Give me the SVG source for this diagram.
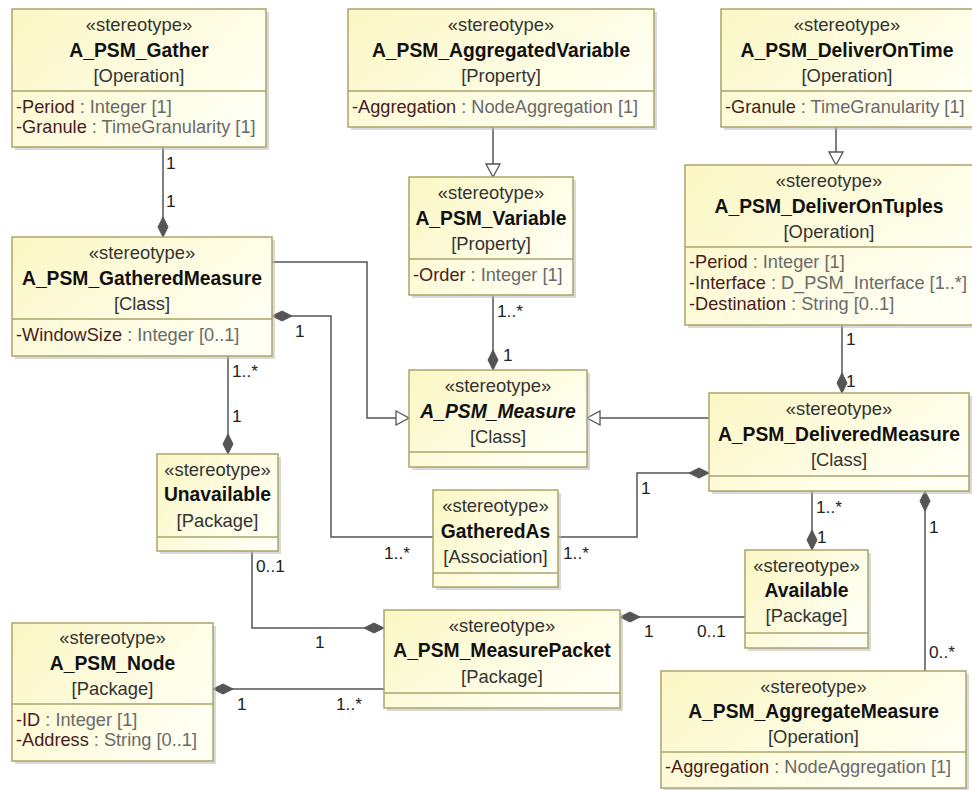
<svg xmlns="http://www.w3.org/2000/svg" width="972" height="790" viewBox="0 0 972 790">
<style>
.bg{fill:#ffffff}
.sh{fill:#b9b9b9;opacity:0.55}
.box{fill:url(#g);stroke:#aaa56a;stroke-width:1.5}
.sep{stroke:#aaa56a;stroke-width:1.5}
text{font-family:"Liberation Sans",Arial,sans-serif}
.st{font-size:18.4px;fill:#333;text-anchor:middle}
.nm{font-size:19.3px;font-weight:bold;fill:#111;text-anchor:middle}
.it{font-style:italic}
.ty{font-size:18.4px;fill:#333;text-anchor:middle}
.at{font-size:18.2px;fill:#6a6a6a}
.an{fill:#4a1c1c}
.c{fill:none;stroke:#555;stroke-width:1.5}
.lb{font-size:17.3px;fill:#222}
</style>
<defs>
<linearGradient id="g" x1="0" y1="0" x2="1" y2="0.6">
<stop offset="0" stop-color="#fbf7c4"/>
<stop offset="1" stop-color="#fffff3"/>
</linearGradient>
<marker id="dia" viewBox="0 0 22 12" refX="21" refY="6" markerWidth="22" markerHeight="12" markerUnits="userSpaceOnUse" orient="auto-start-reverse">
<path d="M1,6 L11,1 L21,6 L11,11 Z" fill="#555" stroke="#555" stroke-width="1"/>
</marker>
<marker id="tri" viewBox="0 0 15 16" refX="14" refY="8" markerWidth="15" markerHeight="16" markerUnits="userSpaceOnUse" orient="auto">
<path d="M1,1 L14,8 L1,15 Z" fill="#fff" stroke="#555" stroke-width="1.3"/>
</marker>
</defs>
<rect class="bg" x="0" y="0" width="972" height="790"/>

<g id="connectors">
<path class="c" d="M163,147 V237" marker-end="url(#dia)"/>
<path class="c" d="M493,127 V177" marker-end="url(#tri)"/>
<path class="c" d="M836,127 V165" marker-end="url(#tri)"/>
<path class="c" d="M493,295 V370" marker-end="url(#dia)"/>
<path class="c" d="M842,325 V393" marker-end="url(#dia)"/>
<path class="c" d="M272,262 H367 V418 H409" marker-end="url(#tri)"/>
<path class="c" d="M709,418 H587" marker-end="url(#tri)"/>
<path class="c" d="M433,537 H331 V316 H272" marker-end="url(#dia)"/>
<path class="c" d="M558,537 H637 V473 H709" marker-end="url(#dia)"/>
<path class="c" d="M228,356 V454" marker-end="url(#dia)"/>
<path class="c" d="M252,551 V628 H384" marker-end="url(#dia)"/>
<path class="c" d="M384,689 H213" marker-end="url(#dia)"/>
<path class="c" d="M745,617 H620" marker-end="url(#dia)"/>
<path class="c" d="M812,491 V550" marker-end="url(#dia)"/>
<path class="c" d="M925,671 V491" marker-end="url(#dia)"/>
<text class="lb" x="166" y="169">1</text>
<text class="lb" x="166" y="207">1</text>
<text class="lb" x="497" y="317">1..*</text>
<text class="lb" x="503" y="361">1</text>
<text class="lb" x="846" y="345">1</text>
<text class="lb" x="846" y="387">1</text>
<text class="lb" x="295" y="337">1</text>
<text class="lb" x="384" y="559">1..*</text>
<text class="lb" x="563" y="559">1..*</text>
<text class="lb" x="641" y="494">1</text>
<text class="lb" x="232" y="377">1..*</text>
<text class="lb" x="232" y="422">1</text>
<text class="lb" x="256" y="572">0..1</text>
<text class="lb" x="315" y="648">1</text>
<text class="lb" x="237" y="710">1</text>
<text class="lb" x="336" y="710">1..*</text>
<text class="lb" x="644" y="637">1</text>
<text class="lb" x="697" y="637">0..1</text>
<text class="lb" x="816" y="513">1..*</text>
<text class="lb" x="817" y="543">1</text>
<text class="lb" x="929" y="533">1</text>
<text class="lb" x="929" y="658">0..*</text>
</g>

<g id="A_PSM_Gather">
<rect class="sh" x="15" y="12" width="254" height="138"/>
<rect class="box" x="12" y="9" width="254" height="138"/>
<line class="sep" x1="12" y1="91" x2="266" y2="91"/>
<text class="st" x="139" y="31">«stereotype»</text>
<text class="nm" x="139" y="57">A_PSM_Gather</text>
<text class="ty" x="139" y="82">[Operation]</text>
<text class="at" x="16" y="113"><tspan class="an">-Period</tspan> : Integer [1]</text>
<text class="at" x="16" y="133"><tspan class="an">-Granule</tspan> : TimeGranularity [1]</text>
</g>

<g id="A_PSM_AggregatedVariable">
<rect class="sh" x="351" y="12" width="306" height="118"/>
<rect class="box" x="348" y="9" width="306" height="118"/>
<line class="sep" x1="348" y1="91" x2="654" y2="91"/>
<text class="st" x="501" y="31">«stereotype»</text>
<text class="nm" x="501" y="57">A_PSM_AggregatedVariable</text>
<text class="ty" x="501" y="82">[Property]</text>
<text class="at" x="352" y="113"><tspan class="an">-Aggregation</tspan> : NodeAggregation [1]</text>
</g>

<g id="A_PSM_DeliverOnTime">
<rect class="sh" x="724" y="12" width="252" height="118"/>
<rect class="box" x="721" y="9" width="252" height="118"/>
<line class="sep" x1="721" y1="91" x2="973" y2="91"/>
<text class="st" x="847" y="31">«stereotype»</text>
<text class="nm" x="847" y="57">A_PSM_DeliverOnTime</text>
<text class="ty" x="847" y="82">[Operation]</text>
<text class="at" x="725" y="113"><tspan class="an">-Granule</tspan> : TimeGranularity [1]</text>
</g>

<g id="A_PSM_Variable">
<rect class="sh" x="412" y="180" width="164" height="118"/>
<rect class="box" x="409" y="177" width="164" height="118"/>
<line class="sep" x1="409" y1="259" x2="573" y2="259"/>
<text class="st" x="491" y="199">«stereotype»</text>
<text class="nm" x="491" y="225">A_PSM_Variable</text>
<text class="ty" x="491" y="250">[Property]</text>
<text class="at" x="413" y="281"><tspan class="an">-Order</tspan> : Integer [1]</text>
</g>

<g id="A_PSM_DeliverOnTuples">
<rect class="sh" x="688" y="168" width="288" height="160"/>
<rect class="box" x="685" y="165" width="288" height="160"/>
<line class="sep" x1="685" y1="247" x2="973" y2="247"/>
<text class="st" x="829" y="187">«stereotype»</text>
<text class="nm" x="829" y="213">A_PSM_DeliverOnTuples</text>
<text class="ty" x="829" y="238">[Operation]</text>
<text class="at" x="689" y="268"><tspan class="an">-Period</tspan> : Integer [1]</text>
<text class="at" x="689" y="289"><tspan class="an">-Interface</tspan> : D_PSM_Interface [1..*]</text>
<text class="at" x="689" y="310"><tspan class="an">-Destination</tspan> : String [0..1]</text>
</g>

<g id="A_PSM_GatheredMeasure">
<rect class="sh" x="15" y="240" width="260" height="119"/>
<rect class="box" x="12" y="237" width="260" height="119"/>
<line class="sep" x1="12" y1="319" x2="272" y2="319"/>
<text class="st" x="142" y="259">«stereotype»</text>
<text class="nm" x="142" y="285">A_PSM_GatheredMeasure</text>
<text class="ty" x="142" y="310">[Class]</text>
<text class="at" x="16" y="341"><tspan class="an">-WindowSize</tspan> : Integer [0..1]</text>
</g>

<g id="A_PSM_Measure">
<rect class="sh" x="412" y="373" width="178" height="97"/>
<rect class="box" x="409" y="370" width="178" height="97"/>
<line class="sep" x1="409" y1="452" x2="587" y2="452"/>
<text class="st" x="498" y="392">«stereotype»</text>
<text class="nm it" x="498" y="418">A_PSM_Measure</text>
<text class="ty" x="498" y="443">[Class]</text>
</g>

<g id="A_PSM_DeliveredMeasure">
<rect class="sh" x="712" y="396" width="260" height="98"/>
<rect class="box" x="709" y="393" width="260" height="98"/>
<line class="sep" x1="709" y1="476" x2="969" y2="476"/>
<text class="st" x="839" y="415">«stereotype»</text>
<text class="nm" x="839" y="441">A_PSM_DeliveredMeasure</text>
<text class="ty" x="839" y="466">[Class]</text>
</g>

<g id="Unavailable">
<rect class="sh" x="160" y="457" width="121" height="97"/>
<rect class="box" x="157" y="454" width="121" height="97"/>
<line class="sep" x1="157" y1="537" x2="278" y2="537"/>
<text class="st" x="217.5" y="476">«stereotype»</text>
<text class="nm" x="217.5" y="501">Unavailable</text>
<text class="ty" x="217.5" y="527">[Package]</text>
</g>

<g id="GatheredAs">
<rect class="sh" x="436" y="493" width="125" height="97"/>
<rect class="box" x="433" y="490" width="125" height="97"/>
<line class="sep" x1="433" y1="573" x2="558" y2="573"/>
<text class="st" x="495.5" y="512">«stereotype»</text>
<text class="nm" x="495.5" y="538">GatheredAs</text>
<text class="ty" x="495.5" y="563">[Association]</text>
</g>

<g id="Available">
<rect class="sh" x="748" y="553" width="123" height="98"/>
<rect class="box" x="745" y="550" width="123" height="98"/>
<line class="sep" x1="745" y1="633" x2="868" y2="633"/>
<text class="st" x="806.5" y="572">«stereotype»</text>
<text class="nm" x="806.5" y="597">Available</text>
<text class="ty" x="806.5" y="622">[Package]</text>
</g>

<g id="A_PSM_MeasurePacket">
<rect class="sh" x="387" y="613" width="236" height="98"/>
<rect class="box" x="384" y="610" width="236" height="98"/>
<line class="sep" x1="384" y1="693" x2="620" y2="693"/>
<text class="st" x="502" y="632">«stereotype»</text>
<text class="nm" x="502" y="657">A_PSM_MeasurePacket</text>
<text class="ty" x="502" y="683">[Package]</text>
</g>

<g id="A_PSM_Node">
<rect class="sh" x="15" y="626" width="201" height="138"/>
<rect class="box" x="12" y="623" width="201" height="138"/>
<line class="sep" x1="12" y1="704" x2="213" y2="704"/>
<text class="st" x="112.5" y="644">«stereotype»</text>
<text class="nm" x="112.5" y="670">A_PSM_Node</text>
<text class="ty" x="112.5" y="695">[Package]</text>
<text class="at" x="16" y="726"><tspan class="an">-ID</tspan> : Integer [1]</text>
<text class="at" x="16" y="746"><tspan class="an">-Address</tspan> : String [0..1]</text>
</g>

<g id="A_PSM_AggregateMeasure">
<rect class="sh" x="664" y="674" width="305" height="117"/>
<rect class="box" x="661" y="671" width="305" height="117"/>
<line class="sep" x1="661" y1="752" x2="966" y2="752"/>
<text class="st" x="813.5" y="693">«stereotype»</text>
<text class="nm" x="813.5" y="718">A_PSM_AggregateMeasure</text>
<text class="ty" x="813.5" y="743">[Operation]</text>
<text class="at" x="665" y="773"><tspan class="an">-Aggregation</tspan> : NodeAggregation [1]</text>
</g>
</svg>
